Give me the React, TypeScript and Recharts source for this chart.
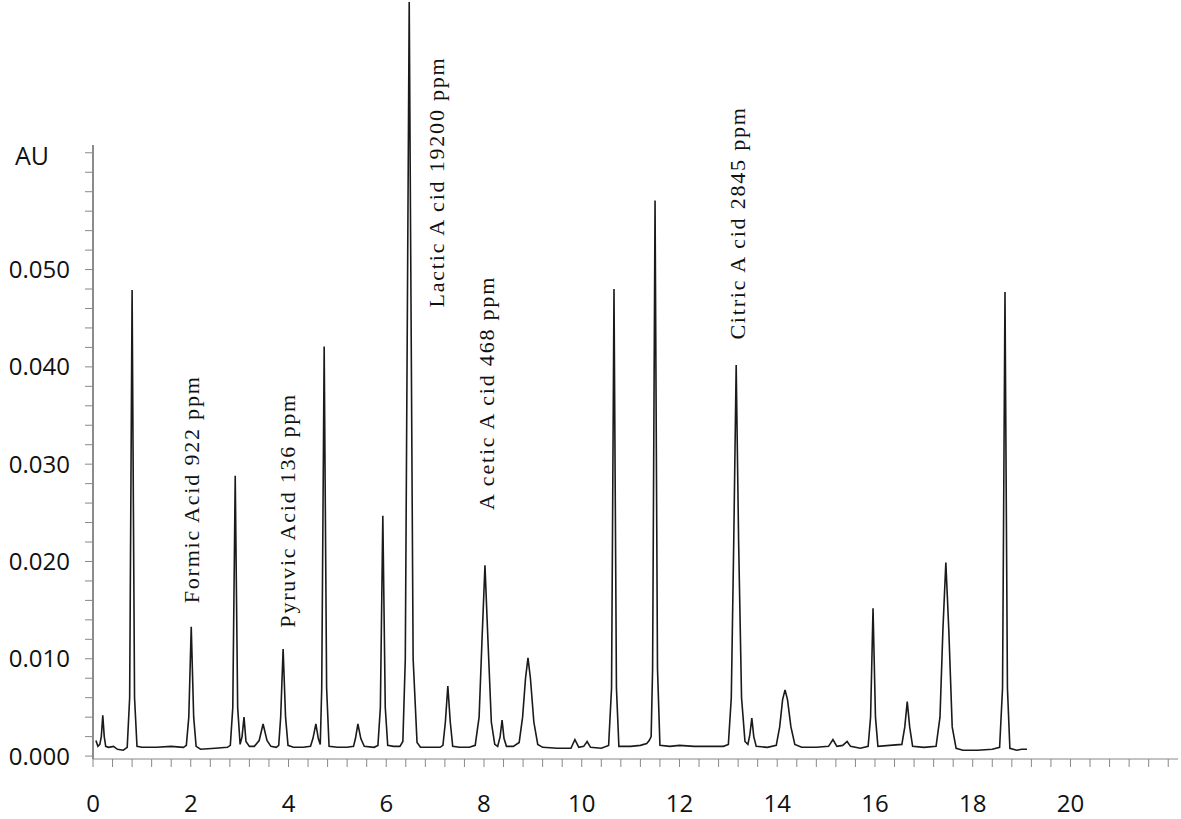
import { LineChart, Line, XAxis, YAxis, ReferenceLine, ReferenceDot } from "recharts";

// retention time (min) vs absorbance (AU)
const chromatogram: [number, number][] = [
  [0.06, 0.0016], [0.1, 0.001], [0.14, 0.0012], [0.17, 0.002], [0.2, 0.0042], [0.23, 0.002], [0.26, 0.001],
  [0.32, 0.0009], [0.42, 0.001], [0.5, 0.0007], [0.62, 0.0006], [0.7, 0.0009],
  [0.75, 0.006], [0.8, 0.0479], [0.85, 0.006], [0.9, 0.001],
  [1.0, 0.0009], [1.3, 0.0009], [1.6, 0.001], [1.85, 0.0009], [1.91, 0.0011],
  [1.96, 0.004], [2.01, 0.0133], [2.06, 0.004], [2.11, 0.001], [2.2, 0.0007], [2.5, 0.0008], [2.75, 0.0009], [2.81, 0.0011],
  [2.86, 0.005], [2.91, 0.0288], [2.96, 0.005], [3.01, 0.0012],
  [3.05, 0.002], [3.09, 0.004], [3.13, 0.0015], [3.2, 0.001], [3.3, 0.001],
  [3.4, 0.0016], [3.48, 0.0033], [3.56, 0.0016], [3.64, 0.001], [3.75, 0.0009], [3.8, 0.0011],
  [3.84, 0.004], [3.89, 0.011], [3.94, 0.004], [3.99, 0.0011], [4.1, 0.0009], [4.3, 0.0009], [4.45, 0.001],
  [4.5, 0.0018], [4.56, 0.0033], [4.61, 0.0018], [4.65, 0.0012],
  [4.68, 0.007], [4.73, 0.0421], [4.78, 0.007], [4.83, 0.001], [5.0, 0.0009], [5.2, 0.0009], [5.33, 0.001],
  [5.37, 0.0018], [5.42, 0.0033], [5.48, 0.0018], [5.55, 0.001], [5.75, 0.0009], [5.83, 0.0011],
  [5.88, 0.005], [5.93, 0.0247], [5.98, 0.005], [6.03, 0.0011], [6.15, 0.001], [6.28, 0.001], [6.34, 0.0015],
  [6.39, 0.01], [6.47, 0.0775], [6.55, 0.01], [6.63, 0.0014], [6.7, 0.0009], [6.9, 0.0009], [7.1, 0.0009], [7.16, 0.0011],
  [7.21, 0.0035], [7.26, 0.0072], [7.31, 0.0035], [7.36, 0.001], [7.5, 0.0009], [7.7, 0.0009], [7.82, 0.0011],
  [7.9, 0.004], [7.96, 0.012], [8.02, 0.0196], [8.08, 0.012], [8.15, 0.0035], [8.22, 0.0012], [8.28, 0.001],
  [8.33, 0.002], [8.37, 0.0037], [8.41, 0.0018], [8.46, 0.001], [8.6, 0.001], [8.72, 0.0014],
  [8.79, 0.004], [8.85, 0.008], [8.9, 0.0101], [8.95, 0.008], [9.02, 0.0035], [9.1, 0.0012], [9.2, 0.0009],
  [9.5, 0.0008], [9.78, 0.0008], [9.86, 0.0017], [9.94, 0.0009], [10.04, 0.001], [10.11, 0.0015], [10.18, 0.0009],
  [10.4, 0.0008], [10.55, 0.0011],
  [10.61, 0.007], [10.66, 0.048], [10.71, 0.007], [10.76, 0.001], [11.0, 0.001], [11.2, 0.0011], [11.33, 0.0013],
  [11.38, 0.0016], [11.42, 0.002],
  [11.45, 0.009], [11.5, 0.0571], [11.55, 0.009], [11.6, 0.0011], [11.8, 0.001], [12.0, 0.0011], [12.3, 0.001],
  [12.6, 0.001], [12.9, 0.001], [13.0, 0.0012],
  [13.06, 0.006], [13.11, 0.022], [13.16, 0.0402], [13.21, 0.022], [13.27, 0.006], [13.34, 0.0015], [13.4, 0.0012],
  [13.44, 0.0022], [13.48, 0.0039], [13.52, 0.002], [13.57, 0.001], [13.8, 0.0009], [13.98, 0.0011],
  [14.05, 0.003], [14.11, 0.0058], [14.16, 0.0068], [14.21, 0.0058], [14.28, 0.003], [14.36, 0.0012], [14.5, 0.0009],
  [14.8, 0.0009], [15.05, 0.001], [15.14, 0.0017], [15.22, 0.001], [15.34, 0.0011], [15.43, 0.0015], [15.5, 0.001],
  [15.7, 0.0008], [15.86, 0.001],
  [15.91, 0.004], [15.96, 0.0152], [16.01, 0.004], [16.06, 0.001], [16.3, 0.0011], [16.55, 0.0012],
  [16.61, 0.003], [16.66, 0.0056], [16.71, 0.003], [16.77, 0.001], [17.0, 0.0009], [17.25, 0.001],
  [17.33, 0.004], [17.39, 0.013], [17.45, 0.0199], [17.51, 0.013], [17.58, 0.003], [17.66, 0.0008], [17.8, 0.0006],
  [18.1, 0.0006], [18.4, 0.0007], [18.55, 0.0009],
  [18.61, 0.007], [18.66, 0.0477], [18.71, 0.007], [18.76, 0.0008], [18.9, 0.0006], [19.0, 0.0007], [19.11, 0.0007],
];

const peakNames = [
  "Formic Acid 922 ppm",
  "Pyruvic Acid 136 ppm",
  "Lactic A cid 19200 ppm",
  "A cetic A cid 468 ppm",
  "Citric A cid 2845 ppm",
];
const peakLabelTime = [2.01, 3.97, 7.02, 8.06, 13.18];
const peakLabelAU = [0.0157, 0.0132, 0.0461, 0.0253, 0.0428];

const xLabels = ["0", "2", "4", "6", "8", "10", "12", "14", "16", "18", "20"];
const yLabels = ["0.000", "0.010", "0.020", "0.030", "0.040", "0.050"];

const xTicks = Array.from({ length: 56 }, (_, i) => Math.round(i * 4) / 10);
const yTicks = Array.from({ length: 32 }, (_, i) => Math.round(i * 2) / 1000);

const data = chromatogram.map(([t, au]) => ({ t, au }));

const axisFont = "'Open Sans', sans-serif";

function PeakLabel(props: any) {
  const { cx, cy, text } = props;
  return (
    <text
      x={cx}
      y={cy}
      transform={`rotate(-90 ${cx} ${cy})`}
      textAnchor="start"
      dominantBaseline="central"
      fontFamily="'Liberation Serif', serif"
      fontSize={22}
      letterSpacing={1.8}
      fill="#111"
    >
      {text}
    </text>
  );
}

export default function App() {
  return (
    <div style={{ position: "absolute", left: 0, top: 0, background: "#fff" }}>
      <LineChart width={1181} height={819} data={data} margin={{ top: 1, right: 3, bottom: 0, left: 0 }}>
        <XAxis
          dataKey="t"
          type="number"
          domain={[0, 22.2]}
          allowDataOverflow
          ticks={xTicks}
          interval={0}
          height={60}
          tickSize={8}
          tickMargin={28}
          stroke="#888"
          tick={{ fill: "#111", fontSize: 24, fontFamily: axisFont }}
          tickFormatter={(v: number) => {
            const i = Math.round(v / 0.4);
            return i % 5 === 0 ? xLabels[i / 5] ?? "" : "";
          }}
        />
        <YAxis
          type="number"
          domain={[-0.0003, 0.0776]}
          allowDataOverflow
          ticks={yTicks}
          interval={0}
          width={93}
          tickSize={8}
          tickMargin={15}
          axisLine={false}
          tickLine={{ stroke: "#888" }}
          tick={{ fill: "#111", fontSize: 24, fontFamily: axisFont }}
          tickFormatter={(v: number) => {
            const i = Math.round(v / 0.002);
            return i % 5 === 0 ? yLabels[i / 5] ?? "" : "";
          }}
          label={{
            content: (p: any) => (
              <text x={15} y={(p.viewBox?.y ?? 0) + 164} fontFamily={axisFont} fontSize={25} fill="#111">
                AU
              </text>
            ),
          }}
        />
        <ReferenceLine
          segment={[
            { x: 0, y: -0.0003 },
            { x: 0, y: 0.0628 },
          ]}
          stroke="#666"
          strokeWidth={1.5}
        />
        <Line
          type="linear"
          dataKey="au"
          stroke="#1a1a1a"
          strokeWidth={1.6}
          dot={false}
          isAnimationActive={false}
        />
        {peakNames.map((name, i) => (
          <ReferenceDot
            key={name}
            x={peakLabelTime[i]}
            y={peakLabelAU[i]}
            r={0}
            shape={(p: any) => <PeakLabel {...p} text={name} />}
          />
        ))}
      </LineChart>
    </div>
  );
}
